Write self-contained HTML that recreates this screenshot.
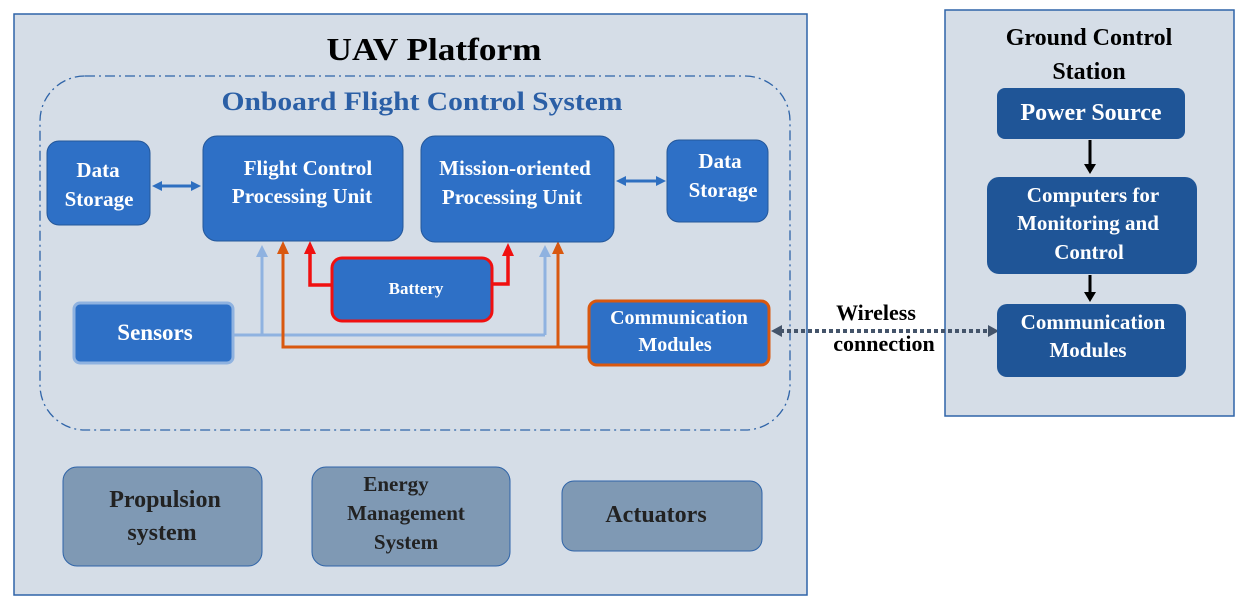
<!DOCTYPE html>
<html><head><meta charset="utf-8"><style>
html,body{margin:0;padding:0;background:#fff;width:1250px;height:610px;overflow:hidden}
svg text{font-family:"Liberation Serif",serif;font-weight:bold}
</style></head><body>
<svg width="1250" height="610" viewBox="0 0 1250 610" xmlns="http://www.w3.org/2000/svg">
<defs>
<marker id="ab" markerWidth="10" markerHeight="10" refX="5" refY="5" orient="auto" markerUnits="userSpaceOnUse"><path d="M0,0 L10,5 L0,10 z" fill="#2e6fc0"/></marker>
<marker id="abs" markerWidth="10" markerHeight="10" refX="5" refY="5" orient="auto-start-reverse" markerUnits="userSpaceOnUse"><path d="M0,0 L10,5 L0,10 z" fill="#2e6fc0"/></marker>
</defs>
<rect x="14" y="14" width="793" height="581" fill="#d5dde7" stroke="#2f64a8" stroke-width="1.5"/>
<text x="434" y="60" font-size="32" text-anchor="middle" fill="#000" textLength="215" lengthAdjust="spacingAndGlyphs">UAV Platform</text>
<rect x="40" y="76" width="750" height="354" rx="45" fill="none" stroke="#2f64a8" stroke-width="1.3" stroke-dasharray="10,4,2,4"/>
<text x="422" y="110" font-size="26" text-anchor="middle" fill="#2b5fa6" textLength="401" lengthAdjust="spacingAndGlyphs">Onboard Flight Control System</text>

<rect x="945" y="10" width="289" height="406" fill="#d5dde7" stroke="#2f64a8" stroke-width="1.5"/>
<text x="1089" y="45" font-size="24" text-anchor="middle">Ground Control</text>
<text x="1089" y="79" font-size="24" text-anchor="middle">Station</text>

<g fill="none">
<line x1="234" y1="335" x2="545" y2="335" stroke="#8fb2e0" stroke-width="3"/>
<line x1="262" y1="335" x2="262" y2="255" stroke="#8fb2e0" stroke-width="3"/>
<line x1="545" y1="335" x2="545" y2="255" stroke="#8fb2e0" stroke-width="3"/>
<path d="M588,347 H283 V252" stroke="#d9580f" stroke-width="3"/>
<line x1="558" y1="347" x2="558" y2="252" stroke="#d9580f" stroke-width="3"/>
<path d="M331,285 H310 V252" stroke="#f01010" stroke-width="3.5"/>
<path d="M493,284 H508 V254" stroke="#f01010" stroke-width="3.5"/>
</g>
<path d="M256,257 L262,245 L268,257 z" fill="#8fb2e0"/>
<path d="M539,257 L545,245 L551,257 z" fill="#8fb2e0"/>
<path d="M277,254 L283,241 L289,254 z" fill="#d9580f"/>
<path d="M552,254 L558,241 L564,254 z" fill="#d9580f"/>
<path d="M304,254 L310,241 L316,254 z" fill="#f01010"/>
<path d="M502,256 L508,243 L514,256 z" fill="#f01010"/>
<line x1="157" y1="186" x2="196" y2="186" stroke="#2e6fc0" stroke-width="3" marker-start="url(#abs)" marker-end="url(#ab)"/>
<line x1="621" y1="181" x2="661" y2="181" stroke="#2e6fc0" stroke-width="3" marker-start="url(#abs)" marker-end="url(#ab)"/>

<line x1="780" y1="331" x2="990" y2="331" stroke="#44546a" stroke-width="4" stroke-dasharray="4,3"/>
<path d="M771,331 L782,325 L782,337 z" fill="#44546a"/>
<path d="M999,331 L988,325 L988,337 z" fill="#44546a"/>
<text x="876" y="320" font-size="22" text-anchor="middle">Wireless</text>
<text x="884" y="351" font-size="22" text-anchor="middle">connection</text>

<line x1="1090" y1="140" x2="1090" y2="166" stroke="#000" stroke-width="3"/>
<path d="M1084,164 L1090,174 L1096,164 z" fill="#000"/>
<line x1="1090" y1="275" x2="1090" y2="294" stroke="#000" stroke-width="3"/>
<path d="M1084,292 L1090,302 L1096,292 z" fill="#000"/>

<g stroke="#24579a" stroke-width="1">
<rect x="47" y="141" width="103" height="84" rx="12" fill="#2e70c6"/>
<rect x="203" y="136" width="200" height="105" rx="14" fill="#2e70c6"/>
<rect x="421" y="136" width="193" height="106" rx="14" fill="#2e70c6"/>
<rect x="667" y="140" width="101" height="82" rx="12" fill="#2e70c6"/>
</g>
<rect x="332" y="258" width="160" height="63" rx="10" fill="#2e70c6" stroke="#f01010" stroke-width="3"/>
<rect x="74" y="303" width="159" height="60" rx="6" fill="#2e70c6" stroke="#8fb2e0" stroke-width="3"/>
<rect x="589" y="301" width="180" height="64" rx="8" fill="#2e70c6" stroke="#d9580f" stroke-width="3"/>

<g fill="#1f5597">
<rect x="997" y="88" width="188" height="51" rx="8"/>
<rect x="987" y="177" width="210" height="97" rx="12"/>
<rect x="997" y="304" width="189" height="73" rx="10"/>
</g>

<g fill="#7f99b4" stroke="#2f64a8" stroke-width="1">
<rect x="63" y="467" width="199" height="99" rx="14"/>
<rect x="312" y="467" width="198" height="99" rx="14"/>
<rect x="562" y="481" width="200" height="70" rx="12"/>
</g>

<g fill="#fff" text-anchor="middle">
<text x="98" y="177" font-size="21">Data</text>
<text x="99" y="206" font-size="21">Storage</text>
<text x="308" y="175" font-size="21">Flight Control</text>
<text x="302" y="203" font-size="21">Processing Unit</text>
<text x="515" y="175" font-size="21">Mission-oriented</text>
<text x="512" y="204" font-size="21">Processing Unit</text>
<text x="720" y="168" font-size="21">Data</text>
<text x="723" y="197" font-size="21">Storage</text>
<text x="416" y="294" font-size="17">Battery</text>
<text x="155" y="340" font-size="23">Sensors</text>
<text x="679" y="324" font-size="20">Communication</text>
<text x="675" y="351" font-size="20">Modules</text>
<text x="1091" y="120" font-size="24">Power Source</text>
<text x="1093" y="202" font-size="21">Computers for</text>
<text x="1088" y="230" font-size="21">Monitoring and</text>
<text x="1089" y="259" font-size="21">Control</text>
<text x="1093" y="329" font-size="21">Communication</text>
<text x="1088" y="357" font-size="21">Modules</text>
</g>
<g fill="#222" text-anchor="middle">
<text x="165" y="507" font-size="24">Propulsion</text>
<text x="162" y="540" font-size="24">system</text>
<text x="396" y="491" font-size="21">Energy</text>
<text x="406" y="520" font-size="21">Management</text>
<text x="406" y="549" font-size="21">System</text>
<text x="656" y="522" font-size="24">Actuators</text>
</g>
</svg>
</body></html>
